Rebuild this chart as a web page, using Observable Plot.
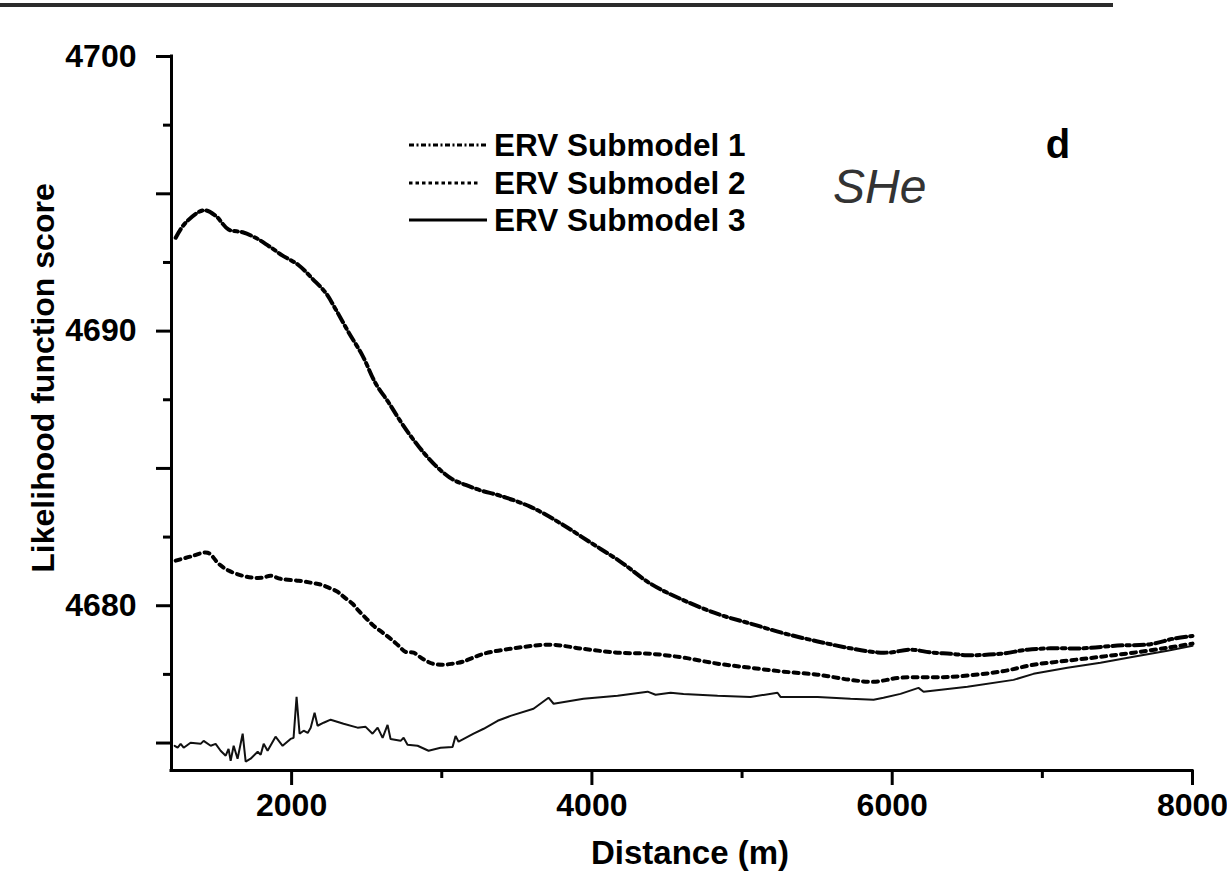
<!DOCTYPE html>
<html>
<head>
<meta charset="utf-8">
<script src="https://cdn.jsdelivr.net/npm/d3@7"></script>
<script src="https://cdn.jsdelivr.net/npm/@observablehq/plot@0.6"></script>
<style>
  html, body { margin: 0; padding: 0; background: #fff; }
  #wrap { position: relative; width: 1227px; height: 872px; overflow: hidden; }
  #wrap svg { position: absolute; left: 0; top: 0; }
  #rule { position: absolute; left: 0; top: 3px; width: 1113px; height: 4px; background: #2b2b2b; z-index: 2; }
</style>
</head>
<body>
<div id="wrap"><div id="rule"></div></div>
<script>
// Axis extents and ticks
const xDomain = [1200, 8000];
const yDomain = [4674, 4700];
const xMajorTicks = [2000, 4000, 6000, 8000];
const xMinorTicks = [3000, 5000, 7000];
const yLabelTicks = [4680, 4690, 4700];
const yMajorTicks = [4675, 4685, 4695];
const yMinorTicks = [4677.5, 4682.5, 4687.5, 4692.5, 4697.5];

const seriesNames = ["ERV Submodel 1", "ERV Submodel 2", "ERV Submodel 3"];

// ERV Submodel 1 (dash-dot)
const sub1Distance = [1228,1294,1414,1494,1580,1674,1760,1847,1940,2047,2140,2226,2293,2380,2473,2559,2646,2739,2846,2959,3072,3159,3259,3392,3592,3791,3991,4191,4391,4570,4837,5056,5276,5503,5722,5902,5989,6122,6255,6388,6501,6721,6901,7054,7274,7500,7720,7873,8000];
const sub1Score = [4693.4,4693.95,4694.4,4694.2,4693.7,4693.6,4693.4,4693.1,4692.75,4692.4,4691.9,4691.4,4690.8,4689.95,4689.1,4688.1,4687.4,4686.6,4685.8,4685.1,4684.6,4684.4,4684.2,4684.0,4683.6,4683.0,4682.3,4681.6,4680.8,4680.3,4679.7,4679.35,4679.0,4678.7,4678.45,4678.3,4678.3,4678.4,4678.3,4678.25,4678.2,4678.25,4678.4,4678.45,4678.45,4678.55,4678.6,4678.8,4678.9];

// ERV Submodel 2 (dotted)
const sub2Distance = [1228,1327,1441,1514,1580,1674,1740,1807,1860,1927,2047,2127,2193,2246,2306,2346,2406,2446,2493,2546,2606,2659,2713,2759,2812,2872,2939,3005,3072,3139,3279,3505,3725,3944,4171,4391,4610,4837,5057,5276,5503,5722,5876,6055,6388,6721,6941,7168,7387,7607,7833,8000];
const sub2Score = [4681.64,4681.79,4681.93,4681.53,4681.28,4681.09,4681.02,4681.02,4681.09,4680.98,4680.91,4680.84,4680.77,4680.66,4680.51,4680.33,4680.07,4679.82,4679.56,4679.27,4679.02,4678.80,4678.54,4678.32,4678.29,4678.07,4677.89,4677.85,4677.89,4677.96,4678.25,4678.47,4678.58,4678.43,4678.29,4678.25,4678.11,4677.89,4677.74,4677.60,4677.49,4677.30,4677.23,4677.38,4677.41,4677.60,4677.85,4678.00,4678.14,4678.29,4678.47,4678.62];

// ERV Submodel 3 (solid, noisy)
const sub3Distance = [1221,1241,1261,1281,1327,1394,1414,1461,1494,1527,1561,1580,1594,1614,1640,1674,1694,1727,1774,1794,1814,1840,1893,1940,1993,2013,2033,2053,2080,2107,2127,2153,2173,2213,2260,2346,2439,2493,2539,2573,2606,2639,2659,2726,2746,2772,2839,2912,2992,3072,3092,3112,3212,3279,3372,3458,3611,3711,3745,3944,4171,4371,4424,4524,4610,4837,5056,5236,5256,5503,5722,5876,5942,6055,6175,6209,6501,6808,6941,7167,7387,7607,7833,8000];
const sub3Score = [4674.90,4674.83,4674.97,4674.83,4675.01,4674.97,4675.08,4674.90,4674.97,4674.72,4674.54,4674.79,4674.35,4674.90,4674.43,4675.34,4674.32,4674.43,4674.68,4674.57,4674.97,4674.72,4675.23,4674.90,4675.15,4675.19,4676.68,4675.34,4675.45,4675.37,4675.56,4676.10,4675.63,4675.74,4675.85,4675.70,4675.56,4675.59,4675.34,4675.56,4675.19,4675.66,4675.15,4675.08,4675.19,4674.94,4674.90,4674.72,4674.83,4674.86,4675.26,4675.05,4675.34,4675.52,4675.81,4675.99,4676.25,4676.65,4676.43,4676.61,4676.72,4676.87,4676.76,4676.83,4676.79,4676.72,4676.68,4676.83,4676.68,4676.68,4676.61,4676.58,4676.65,4676.79,4677.01,4676.87,4677.05,4677.30,4677.52,4677.74,4677.92,4678.14,4678.36,4678.54];

const zip = (xs, ys) => xs.map((d, i) => ({distance: d, score: ys[i]}));
const series1 = zip(sub1Distance, sub1Score);
const series2 = zip(sub2Distance, sub2Score);
const series3 = zip(sub3Distance, sub3Score);

const FONT = "'Liberation Sans', Arial, Helvetica, sans-serif";
const styles = [
  {width: 4, dash: "10,4,3.5,4", legendDash: "5,2.5,2,2.5", legendWidth: 2.8, curve: "catmull-rom"},
  {width: 4, dash: "5,5", legendDash: "3.5,3", legendWidth: 2.8, curve: "catmull-rom"},
  {width: 2, dash: null, legendDash: null, legendWidth: 2.8, curve: "linear"}
];

const chart = Plot.plot({
  width: 1227,
  height: 872,
  marginLeft: 171,
  marginRight: 35,
  marginTop: 56,
  marginBottom: 102,
  x: {domain: xDomain, label: null},
  y: {domain: yDomain, label: null},
  style: {fontFamily: FONT, fontSize: "32px", fontWeight: "bold", color: "#000", background: "transparent", overflow: "visible"},
  marks: [
    Plot.axisX({ticks: xMajorTicks, tickSize: 15, tickPadding: 8, strokeWidth: 3, tickFormat: "d", label: null}),
    Plot.axisX({ticks: xMinorTicks, tickSize: 8, strokeWidth: 3, tickFormat: () => "", label: null}),
    Plot.axisY({ticks: yLabelTicks, tickSize: 15, tickPadding: 20, strokeWidth: 3, tickFormat: "d", label: null}),
    Plot.axisY({ticks: yMajorTicks, tickSize: 15, strokeWidth: 3, tickFormat: () => "", label: null}),
    Plot.axisY({ticks: yMinorTicks, tickSize: 8, strokeWidth: 3, tickFormat: () => "", label: null}),
    Plot.ruleX([xDomain[0]], {strokeWidth: 3, strokeLinecap: "square"}),
    Plot.ruleY([yDomain[0]], {strokeWidth: 3, strokeLinecap: "square"}),
    Plot.line(series1, {x: "distance", y: "score", stroke: "#000", strokeWidth: styles[0].width, strokeDasharray: styles[0].dash, curve: styles[0].curve}),
    Plot.line(series2, {x: "distance", y: "score", stroke: "#000", strokeWidth: styles[1].width, strokeDasharray: styles[1].dash, curve: styles[1].curve}),
    Plot.line(series3, {x: "distance", y: "score", stroke: "#111", strokeWidth: styles[2].width, curve: styles[2].curve, strokeLinejoin: "miter"})
  ]
});

document.getElementById("wrap").prepend(chart);

// Axis titles, legend and panel annotations
const svg = d3.select(chart);
svg.append("text")
  .attr("transform", "translate(54,378) rotate(-90)")
  .attr("text-anchor", "middle")
  .attr("font-family", FONT).attr("font-weight", "bold").attr("font-size", 32)
  .attr("fill", "#000")
  .text("Likelihood function score");

svg.append("text")
  .attr("x", 690).attr("y", 864)
  .attr("text-anchor", "middle")
  .attr("font-family", FONT).attr("font-weight", "bold").attr("font-size", 33)
  .attr("fill", "#000")
  .text("Distance (m)");

const legend = svg.append("g");
const rowY = [145, 183, 220];
seriesNames.forEach((name, i) => {
  const g = legend.append("g").attr("transform", `translate(0,${rowY[i]})`);
  g.append("line")
    .attr("x1", 409).attr("x2", i === 1 ? 479 : 487).attr("y1", 0).attr("y2", 0)
    .attr("stroke", "#000").attr("stroke-width", styles[i].legendWidth)
    .attr("stroke-dasharray", styles[i].legendDash);
  g.append("text")
    .attr("x", 494).attr("y", 11)
    .attr("text-anchor", "start")
    .attr("font-family", FONT).attr("font-weight", "bold").attr("font-size", 31.5)
    .attr("fill", "#000")
    .text(name);
});

svg.append("text")
  .attr("x", 1058).attr("y", 158)
  .attr("text-anchor", "middle")
  .attr("font-family", FONT).attr("font-weight", "bold").attr("font-size", 40)
  .attr("fill", "#000")
  .text("d");

svg.append("text")
  .attr("x", 833).attr("y", 203)
  .attr("text-anchor", "start")
  .attr("font-family", FONT).attr("font-style", "italic").attr("font-weight", "normal").attr("font-size", 48)
  .attr("fill", "#333")
  .text("SHe");
</script>
</body>
</html>
